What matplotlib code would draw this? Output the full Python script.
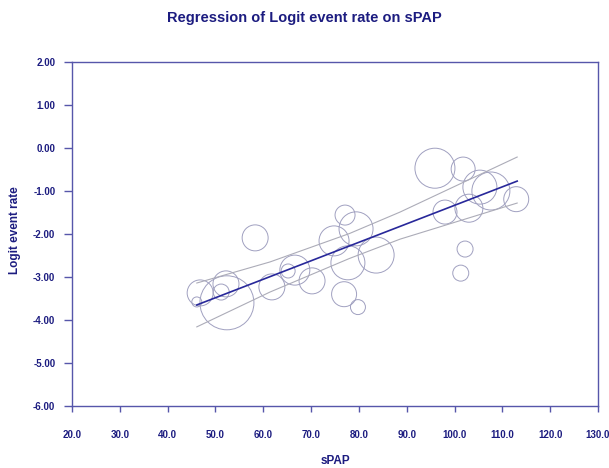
import numpy as np
import matplotlib
matplotlib.use("Agg")
import matplotlib.pyplot as plt

# study points: sPAP, logit event rate, relative weight (bubble area)
spap = [46.8, 46.1, 52.4, 52.2, 51.2, 58.3, 61.8, 65.2, 66.6, 70.2, 74.8, 77.1, 79.4,
        77.7, 83.6, 76.9, 79.8, 95.9, 101.8, 105.3, 107.6, 112.9, 98.0, 103.0, 102.2, 101.3]
logit = [-3.37, -3.58, -3.60, -3.16, -3.35, -2.09, -3.23, -2.86, -2.84, -3.09, -2.16, -1.56, -1.88,
         -2.67, -2.49, -3.40, -3.70, -0.47, -0.49, -0.91, -1.00, -1.19, -1.49, -1.40, -2.35, -2.91]
weights = [169, 25, 729, 169, 64, 169, 169, 49, 225, 169, 225, 100, 289,
           289, 324, 156, 56, 400, 144, 289, 361, 156, 144, 196, 64, 64]

# regression line and confidence limits
reg_x = [46.1, 113.1]
reg_y = [-3.65, -0.77]
ci_x = [46.1, 61.4, 78.0, 88.6, 113.1]
ci_upper = [-3.14, -2.65, -1.99, -1.49, -0.21]
ci_lower = [-4.16, -3.35, -2.57, -2.12, -1.28]

x_ticks = np.arange(20, 131, 10)
y_ticks = np.arange(-6, 2.01, 1)

navy = "#1c1c80"
axis_col = "#5656aa"

plt.rcParams['font.family'] = ['Liberation Sans', 'DejaVu Sans']

fig = plt.figure(figsize=(6.09, 4.68), dpi=100)
ax = fig.add_axes([72 / 609, 62 / 468, 526 / 609, 344 / 468])

sizes = np.array(weights) * (2 * 0.72) ** 2
ax.scatter(spap, logit, s=sizes, facecolors='none', edgecolors='#a0a0c0', linewidths=0.7, zorder=2)
ax.plot(ci_x, ci_upper, color='#acacb8', lw=0.8, zorder=3)
ax.plot(ci_x, ci_lower, color='#acacb8', lw=0.8, zorder=3)
ax.plot(reg_x, reg_y, color='#28289a', lw=1.2, zorder=4)

ax.set_xlim(20, 130)
ax.set_ylim(-6, 2)
ax.set_xticks(x_ticks)
ax.set_yticks(y_ticks)
ax.set_xticklabels(["%.1f" % v for v in x_ticks])
ax.set_yticklabels(["%.2f" % v for v in y_ticks])

for sp in ax.spines.values():
    sp.set_color(axis_col)
    sp.set_linewidth(1.0)
ax.tick_params(axis='x', direction='out', length=4, width=1, color=axis_col, pad=13,
               labelsize=7, labelcolor=navy)
ax.tick_params(axis='y', direction='out', length=6, width=1, color=axis_col, pad=6,
               labelsize=7, labelcolor=navy)
for lab in ax.get_xticklabels() + ax.get_yticklabels():
    lab.set_fontweight('bold')

fig.text(335 / 609, 1 - 461 / 468, "sPAP", ha='center', va='center',
         fontsize=8.5, fontweight='bold', color=navy)
fig.text(15 / 609, 1 - 230 / 468, "Logit event rate", ha='center', va='center', rotation=90,
         fontsize=8.5, fontweight='bold', color=navy)
fig.text(0.5, 1 - 18 / 468, "Regression of Logit event rate on sPAP", ha='center', va='center',
         fontsize=10.5, fontweight='bold', color=navy)

fig.savefig("out.png", dpi=100)
